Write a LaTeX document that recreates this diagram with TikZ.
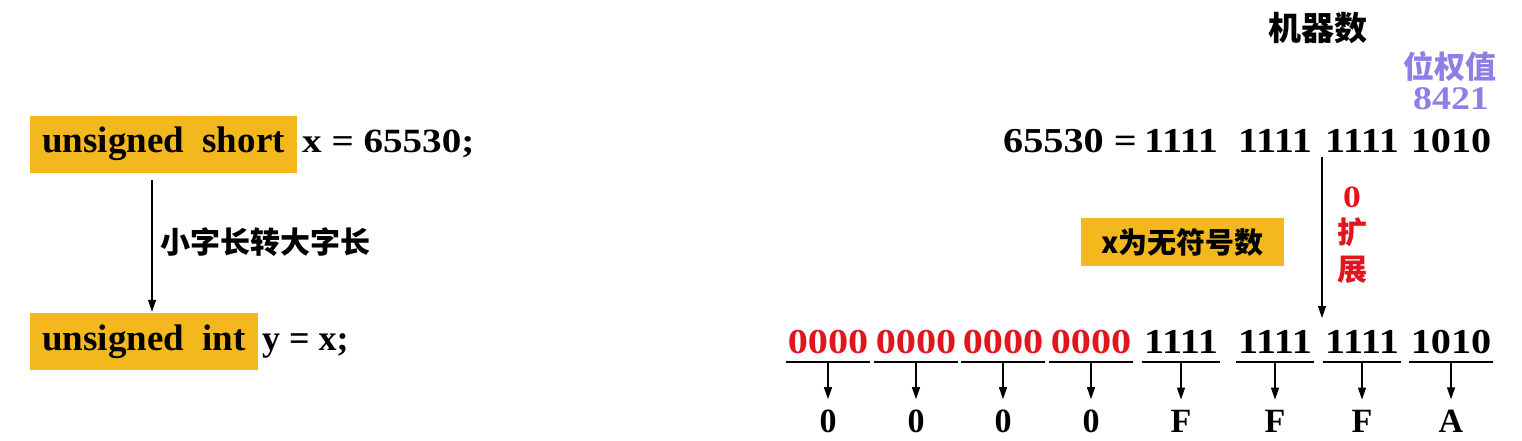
\documentclass[tikz,border=0pt]{standalone}
\usepackage{fontspec}
\setmainfont{Liberation Serif}
\newfontfamily\digf{Liberation Serif}[FakeStretch=1.15]
\newfontfamily\cjk{Noto Sans CJK SC}
\usetikzlibrary{arrows.meta}
\definecolor{boxyellow}{HTML}{F2B81E}
\definecolor{extred}{HTML}{E0161E}
\definecolor{weightpurple}{HTML}{8D7FE6}
\tikzset{
  txt/.style={inner sep=0pt, font=\fontsize{35}{40}\selectfont\digf\bfseries},
  wtxt/.style={inner sep=0pt, font=\fontsize{36}{40}\selectfont\bfseries},
  cjktxt/.style={inner sep=0pt, font=\fontsize{30}{34}\selectfont\cjk\bfseries},
  ybox/.style={fill=boxyellow, inner xsep=12pt, inner ysep=12pt, text height=25pt, text depth=8pt, font=\fontsize{37}{40}\selectfont\bfseries},
  arr/.style={-{Triangle[length=12pt,width=8pt]}, line width=1.2pt},
  uline/.style={line width=1.6pt}
}
\begin{document}
\begin{tikzpicture}[x=1pt,y=-1pt]
\useasboundingbox (0,0) rectangle (1522,441);
% left side
\node[ybox, anchor=base west] (us) at (30,153) {unsigned\ \ short};
\node[txt, anchor=base west, font=\fontsize{34}{40}\selectfont\digf\bfseries] (xd) at (302,153) {x = 65530;};
\node[ybox, anchor=base west] (ui) at (30,350) {unsigned\ \ int};
\node[wtxt, anchor=base west] (yd) at (262,350) {y = x;};
\coordinate (la) at (152,0);
\draw[arr, shorten <=7pt, shorten >=1pt] (us.south -| la) -- (ui.north -| la);
\node[cjktxt, anchor=west] (conv) at (160,242) {小字长转大字长};
% right side top
\node[cjktxt, font=\fontsize{33}{36}\selectfont\cjk\bfseries] (jqs) at (1318,28) {机器数};
\node[cjktxt, text=weightpurple, font=\fontsize{31}{34}\selectfont\cjk\bfseries] (qw) at (1450,66) {位权值};
\node[txt, text=weightpurple, anchor=base, font=\fontsize{33}{38}\selectfont\digf\bfseries] (w8421) at (1451,110) {8421};
\node[txt, anchor=base east] (num) at (1137,153) {65530 =};
\node[txt, anchor=base] (t1) at (1181,153) {1111};
\node[txt, anchor=base] (t2) at (1275,153) {1111};
\node[txt, anchor=base] (t3) at (1362,153) {1111};
\node[txt, anchor=base] (t4) at (1451,153) {1010};
% extension arrow
\coordinate (ra) at (1322,157);
\coordinate (rb) at (1322,318);
\draw[arr] (ra) -- (rb);
\node[txt, text=extred, font=\fontsize{31}{34}\selectfont\digf\bfseries] (z0) at (1352,197) {0};
\node[cjktxt, text=extred] (kz1) at (1352,232) {扩};
\node[cjktxt, text=extred] (kz2) at (1352,270) {展};
\node[fill=boxyellow, minimum width=203pt, minimum height=48pt, inner sep=0pt, font=\fontsize{29}{34}\selectfont\cjk\bfseries] (unsig) at (1182.5,242) {x为无符号数};
% bottom row
\foreach \i/\cx/\v/\c/\h in {1/828/0000/extred/0, 2/916/0000/extred/0, 3/1003/0000/extred/0, 4/1091/0000/extred/0, 5/1181/1111/black/F, 6/1275/1111/black/F, 7/1362/1111/black/F, 8/1451/1010/black/A}{
  \node[txt, anchor=base, text=\c] (g\i) at (\cx,353) {\v};
  \node[wtxt, anchor=base, font=\fontsize{34}{40}\selectfont\bfseries] (h\i) at (\cx,432) {\h};
  \draw[uline] ([yshift=-9pt,xshift=-2pt]g\i.base west) -- ([yshift=-9pt,xshift=2pt]g\i.base east);
  \draw[arr, shorten >=10pt] ([yshift=-9pt]g\i.base) -- (h\i.north);
}
\end{tikzpicture}
\end{document}
